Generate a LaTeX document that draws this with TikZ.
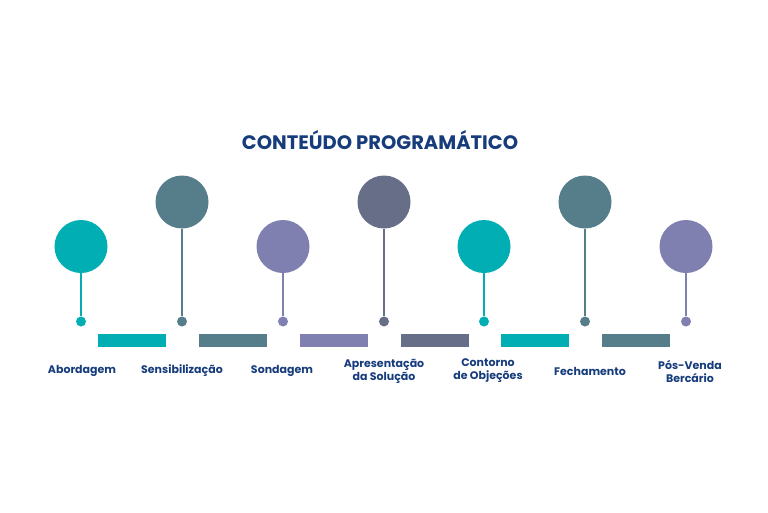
\documentclass[tikz,border=0pt]{standalone}
\usepackage{fontspec}
\setmainfont{Poppins}
\definecolor{cteal}{HTML}{00AEB3}
\definecolor{cslate}{HTML}{557D8A}
\definecolor{cpurple}{HTML}{7F80B0}
\definecolor{cdark}{HTML}{666E88}
\definecolor{ctitle}{HTML}{173C7C}
\tikzset{
  bigdot/.style={circle, fill=#1, minimum size=53pt, inner sep=0pt},
  smalldot/.style={circle, fill=#1, minimum size=10pt, inner sep=0pt},
  stem/.style={draw=#1, line width=2pt},
  bar/.style={fill=#1, minimum width=68pt, minimum height=12.5pt, inner sep=0pt},
  lbl/.style={text=ctitle, font=\fontsize{11}{13}\selectfont\bfseries, align=center, inner sep=0pt},
}
\begin{document}
\begin{tikzpicture}[x=1pt,y=-1pt]
\useasboundingbox (0,0) rectangle (768,512);
\node[text=ctitle, font=\fontsize{19.5}{22}\selectfont\bfseries, inner sep=0pt] (title) at (380,140) {CONTEÚDO PROGRAMÁTICO};
% circles
\node[bigdot=cteal]   (c1) at (81,246.5) {};
\node[bigdot=cslate]  (c2) at (182,202) {};
\node[bigdot=cpurple] (c3) at (283,246.5) {};
\node[bigdot=cdark]   (c4) at (384,202) {};
\node[bigdot=cteal]   (c5) at (484,246.5) {};
\node[bigdot=cslate]  (c6) at (585,202) {};
\node[bigdot=cpurple] (c7) at (686,246.5) {};
% small dots
\node[smalldot=cteal]   (d1) at (81,321.5) {};
\node[smalldot=cslate]  (d2) at (182,321.5) {};
\node[smalldot=cpurple] (d3) at (283,321.5) {};
\node[smalldot=cdark]   (d4) at (384,321.5) {};
\node[smalldot=cteal]   (d5) at (484,321.5) {};
\node[smalldot=cslate]  (d6) at (585,321.5) {};
\node[smalldot=cpurple] (d7) at (686,321.5) {};
% stems
\draw[stem=cteal]   (c1) -- (d1);
\draw[stem=cslate]  (c2) -- (d2);
\draw[stem=cpurple] (c3) -- (d3);
\draw[stem=cdark]   (c4) -- (d4);
\draw[stem=cteal]   (c5) -- (d5);
\draw[stem=cslate]  (c6) -- (d6);
\draw[stem=cpurple] (c7) -- (d7);
% bars
\node[bar=cteal]   (b1) at (132,340.5) {};
\node[bar=cslate]  (b2) at (233,340.5) {};
\node[bar=cpurple] (b3) at (334,340.5) {};
\node[bar=cdark]   (b4) at (434.5,340.5) {};
\node[bar=cteal]   (b5) at (535,340.5) {};
\node[bar=cslate]  (b6) at (636,340.5) {};
% labels
\node[lbl] (l1) at (82,371) {Abordagem};
\node[lbl] (l2) at (182,371) {Sensibilização};
\node[lbl] (l3) at (282,371) {Sondagem};
\node[lbl] (l4) at (384,371) {Apresentação\\da Solução};
\node[lbl] (l5) at (488,371) {Contorno\\de Objeções};
\node[lbl] (l6) at (590,371) {Fechamento};
\node[lbl] (l7) at (690,371) {Pós-Venda\\Bercário};
\end{tikzpicture}
\end{document}
